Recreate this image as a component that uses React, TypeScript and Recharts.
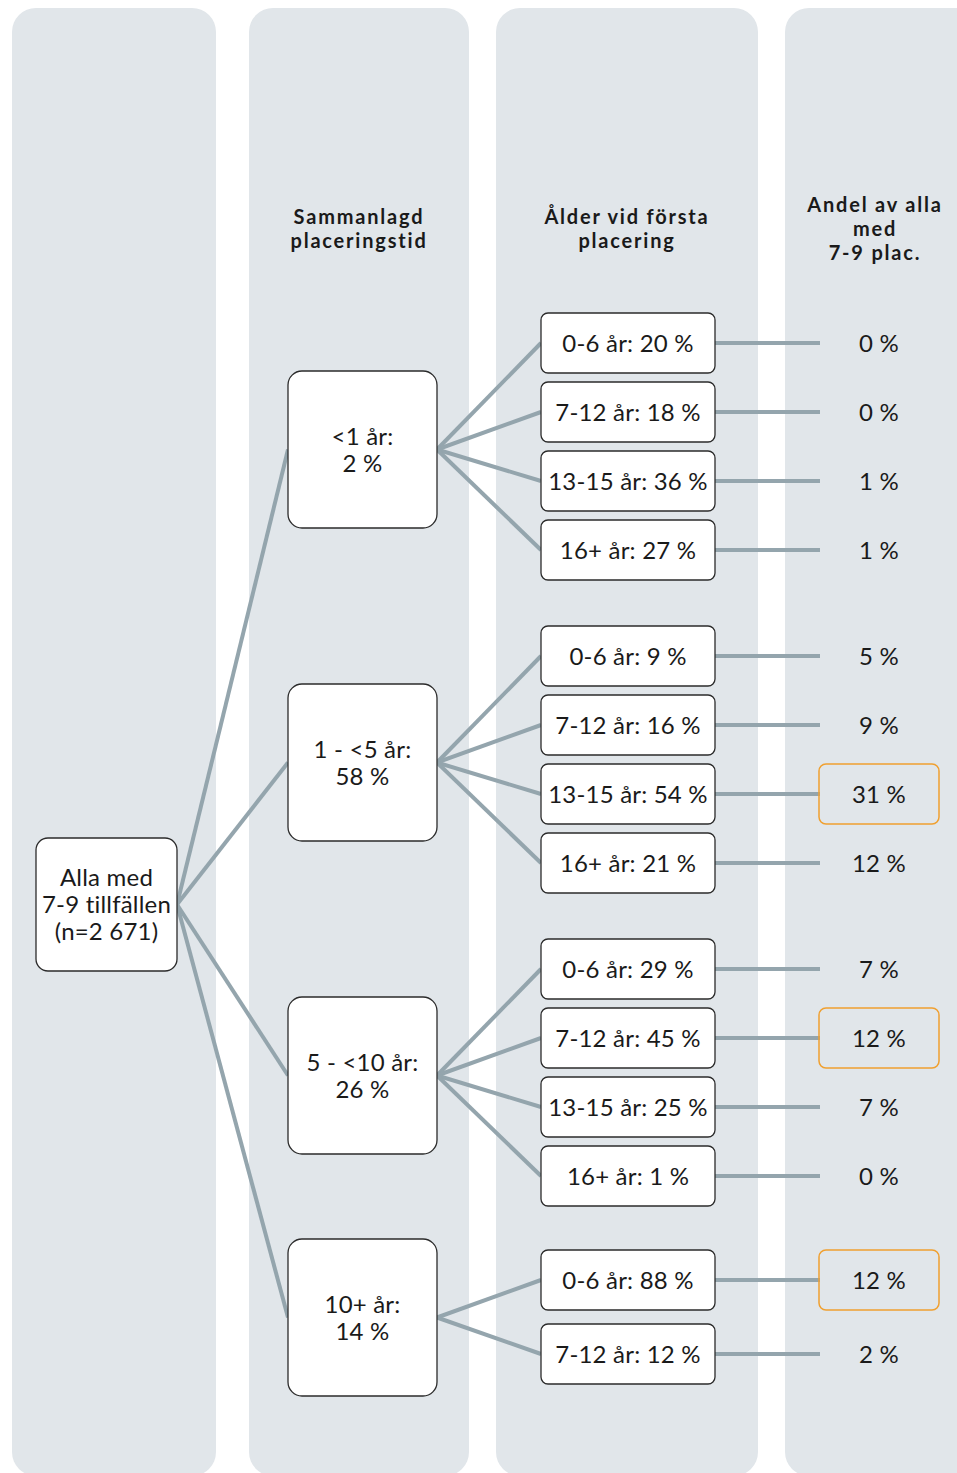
import React from "react";
import {
  ScatterChart,
  Scatter,
  XAxis,
  YAxis,
  ReferenceArea,
  ReferenceLine,
} from "recharts";

// --- data ---
const rootLines = ["Alla med", "7-9 tillfällen", "(n=2 671)"];
const columnTitles = [
  [],
  ["Sammanlagd", "placeringstid"],
  ["Ålder vid första", "placering"],
  ["Andel av alla", "med", "7-9 plac."],
];
const durationLabels = ["<1 år:", "1 - <5 år:", "5 - <10 år:", "10+ år:"];
const durationShares = [2, 58, 26, 14];
const ageLabels = [
  ["0-6", "7-12", "13-15", "16+"],
  ["0-6", "7-12", "13-15", "16+"],
  ["0-6", "7-12", "13-15", "16+"],
  ["0-6", "7-12"],
];
const ageShares = [
  [20, 18, 36, 27],
  [9, 16, 54, 21],
  [29, 45, 25, 1],
  [88, 12],
];
const totalShares = [
  [0, 0, 1, 1],
  [5, 9, 31, 12],
  [7, 12, 7, 0],
  [12, 2],
];
const highlighted = [
  [false, false, false, false],
  [false, false, true, false],
  [false, true, false, false],
  [true, false],
];

// --- layout ---
const W = 957;
const H = 1473;
const FONT = "Lato, 'DejaVu Sans', sans-serif";
const LINE = "#94a5ad";
const BG = "#e1e6ea";

const columns = [
  [12, 216],
  [249, 469],
  [496, 758],
  [785, 1010],
];
const titleX = [114, 359, 627, 875];
const root = { x: 106.5, y: 904.5, w: 141, h: 133 };
const l1 = { x: 362.5, w: 149, h: 157, ys: [449.5, 762.5, 1075.5, 1317.5] };
const l2 = { x: 628, w: 174, h: 60, starts: [343, 656, 969, 1280], steps: [69, 69, 69, 74] };
const l3 = { x: 879, lineEnd: 820, w: 120, h: 60 };

const fmt = (v: number) => `${v} %`;

const rootNode = [{ x: root.x, y: root.y, lines: rootLines, w: root.w, h: root.h, r: 12 }];
const durationNodes = durationLabels.map((lab, i) => ({
  x: l1.x,
  y: l1.ys[i],
  lines: [lab, fmt(durationShares[i])],
  w: l1.w,
  h: l1.h,
  r: 14,
}));
const ageNodes = ageLabels.flatMap((grp, g) =>
  grp.map((lab, i) => ({
    x: l2.x,
    y: l2.starts[g] + i * l2.steps[g],
    lines: [`${lab} år: ${fmt(ageShares[g][i])}`],
    w: l2.w,
    h: l2.h,
    r: 7,
  }))
);
const totalNodes = totalShares.flatMap((grp, g) =>
  grp.map((v, i) => ({
    x: l3.x,
    y: l2.starts[g] + i * l2.steps[g],
    lines: [fmt(v)],
    w: l3.w,
    h: l3.h,
    r: 7,
    hl: highlighted[g][i],
  }))
);

type Seg = [{ x: number; y: number }, { x: number; y: number }];
const segments: Seg[] = [];
durationNodes.forEach((n) =>
  segments.push([
    { x: root.x + root.w / 2, y: root.y },
    { x: n.x - n.w / 2, y: n.y },
  ])
);
ageLabels.forEach((grp, g) =>
  grp.forEach((_, i) => {
    const y = l2.starts[g] + i * l2.steps[g];
    segments.push([
      { x: l1.x + l1.w / 2, y: l1.ys[g] },
      { x: l2.x - l2.w / 2, y },
    ]);
    segments.push([
      { x: l2.x + l2.w / 2, y },
      { x: l3.lineEnd, y },
    ]);
  })
);

function textBlock(
  cx: number,
  cy: number,
  lines: string[],
  size: number,
  lh: number,
  bold = false,
  spacing = 0
) {
  return (
    <text
      textAnchor="middle"
      fontFamily={FONT}
      fontSize={size}
      fontWeight={bold ? 700 : 400}
      letterSpacing={spacing}
      fill="#1a1a1a"
    >
      {lines.map((l, i) => (
        <tspan key={i} x={cx} y={cy + (i - (lines.length - 1) / 2) * lh + size * 0.36}>
          {l}
        </tspan>
      ))}
    </text>
  );
}

function BoxShape(props: any) {
  const { cx, cy, payload } = props;
  const { w, h, r, lines } = payload;
  return (
    <g>
      <rect
        x={cx - w / 2}
        y={cy - h / 2}
        width={w}
        height={h}
        rx={r}
        fill="#ffffff"
        stroke="#2b2b2b"
        strokeWidth={1.3}
      />
      {textBlock(cx, cy, lines, 24, 27, false, 0.2)}
    </g>
  );
}

function TotalShape(props: any) {
  const { cx, cy, payload } = props;
  const { w, h, r, lines, hl } = payload;
  return (
    <g>
      {hl && (
        <rect
          x={cx - w / 2}
          y={cy - h / 2}
          width={w}
          height={h}
          rx={r}
          fill="none"
          stroke="#f0a030"
          strokeWidth={1.5}
        />
      )}
      {textBlock(cx, cy, lines, 24, 27, false, 0.2)}
    </g>
  );
}

const titleNodes = columnTitles.map((lines, i) => ({
  x: titleX[i],
  y: 229,
  lines,
}));

function TitleShape(props: any) {
  const { cx, cy, payload } = props;
  if (!payload.lines.length) return <g />;
  return textBlock(cx, cy, payload.lines, 20, 24, true, 1.8);
}

export default function App() {
  return (
    <div style={{ position: "absolute", left: 0, top: 0, background: "#fff" }}>
      <ScatterChart width={W} height={H} margin={{ top: 0, right: 0, bottom: 0, left: 0 }}>
        <XAxis type="number" dataKey="x" domain={[0, W]} hide allowDataOverflow />
        <YAxis type="number" dataKey="y" domain={[0, H]} reversed hide allowDataOverflow />
        {columns.map(([x1, x2], i) => (
          <ReferenceArea
            key={`col-${i}`}
            x1={x1}
            x2={x2}
            y1={8}
            y2={1476}
            ifOverflow="visible"
            shape={(p: any) => (
              <rect x={p.x} y={p.y} width={p.width} height={p.height} rx={24} fill={BG} />
            )}
          />
        ))}
        {segments.map((s, i) => (
          <ReferenceLine
            key={`seg-${i}`}
            segment={s}
            stroke={LINE}
            strokeWidth={4}
            ifOverflow="visible"
          />
        ))}
        <Scatter data={titleNodes} shape={TitleShape} isAnimationActive={false} />
        <Scatter data={rootNode} shape={BoxShape} isAnimationActive={false} />
        <Scatter data={durationNodes} shape={BoxShape} isAnimationActive={false} />
        <Scatter data={ageNodes} shape={BoxShape} isAnimationActive={false} />
        <Scatter data={totalNodes} shape={TotalShape} isAnimationActive={false} />
      </ScatterChart>
    </div>
  );
}
